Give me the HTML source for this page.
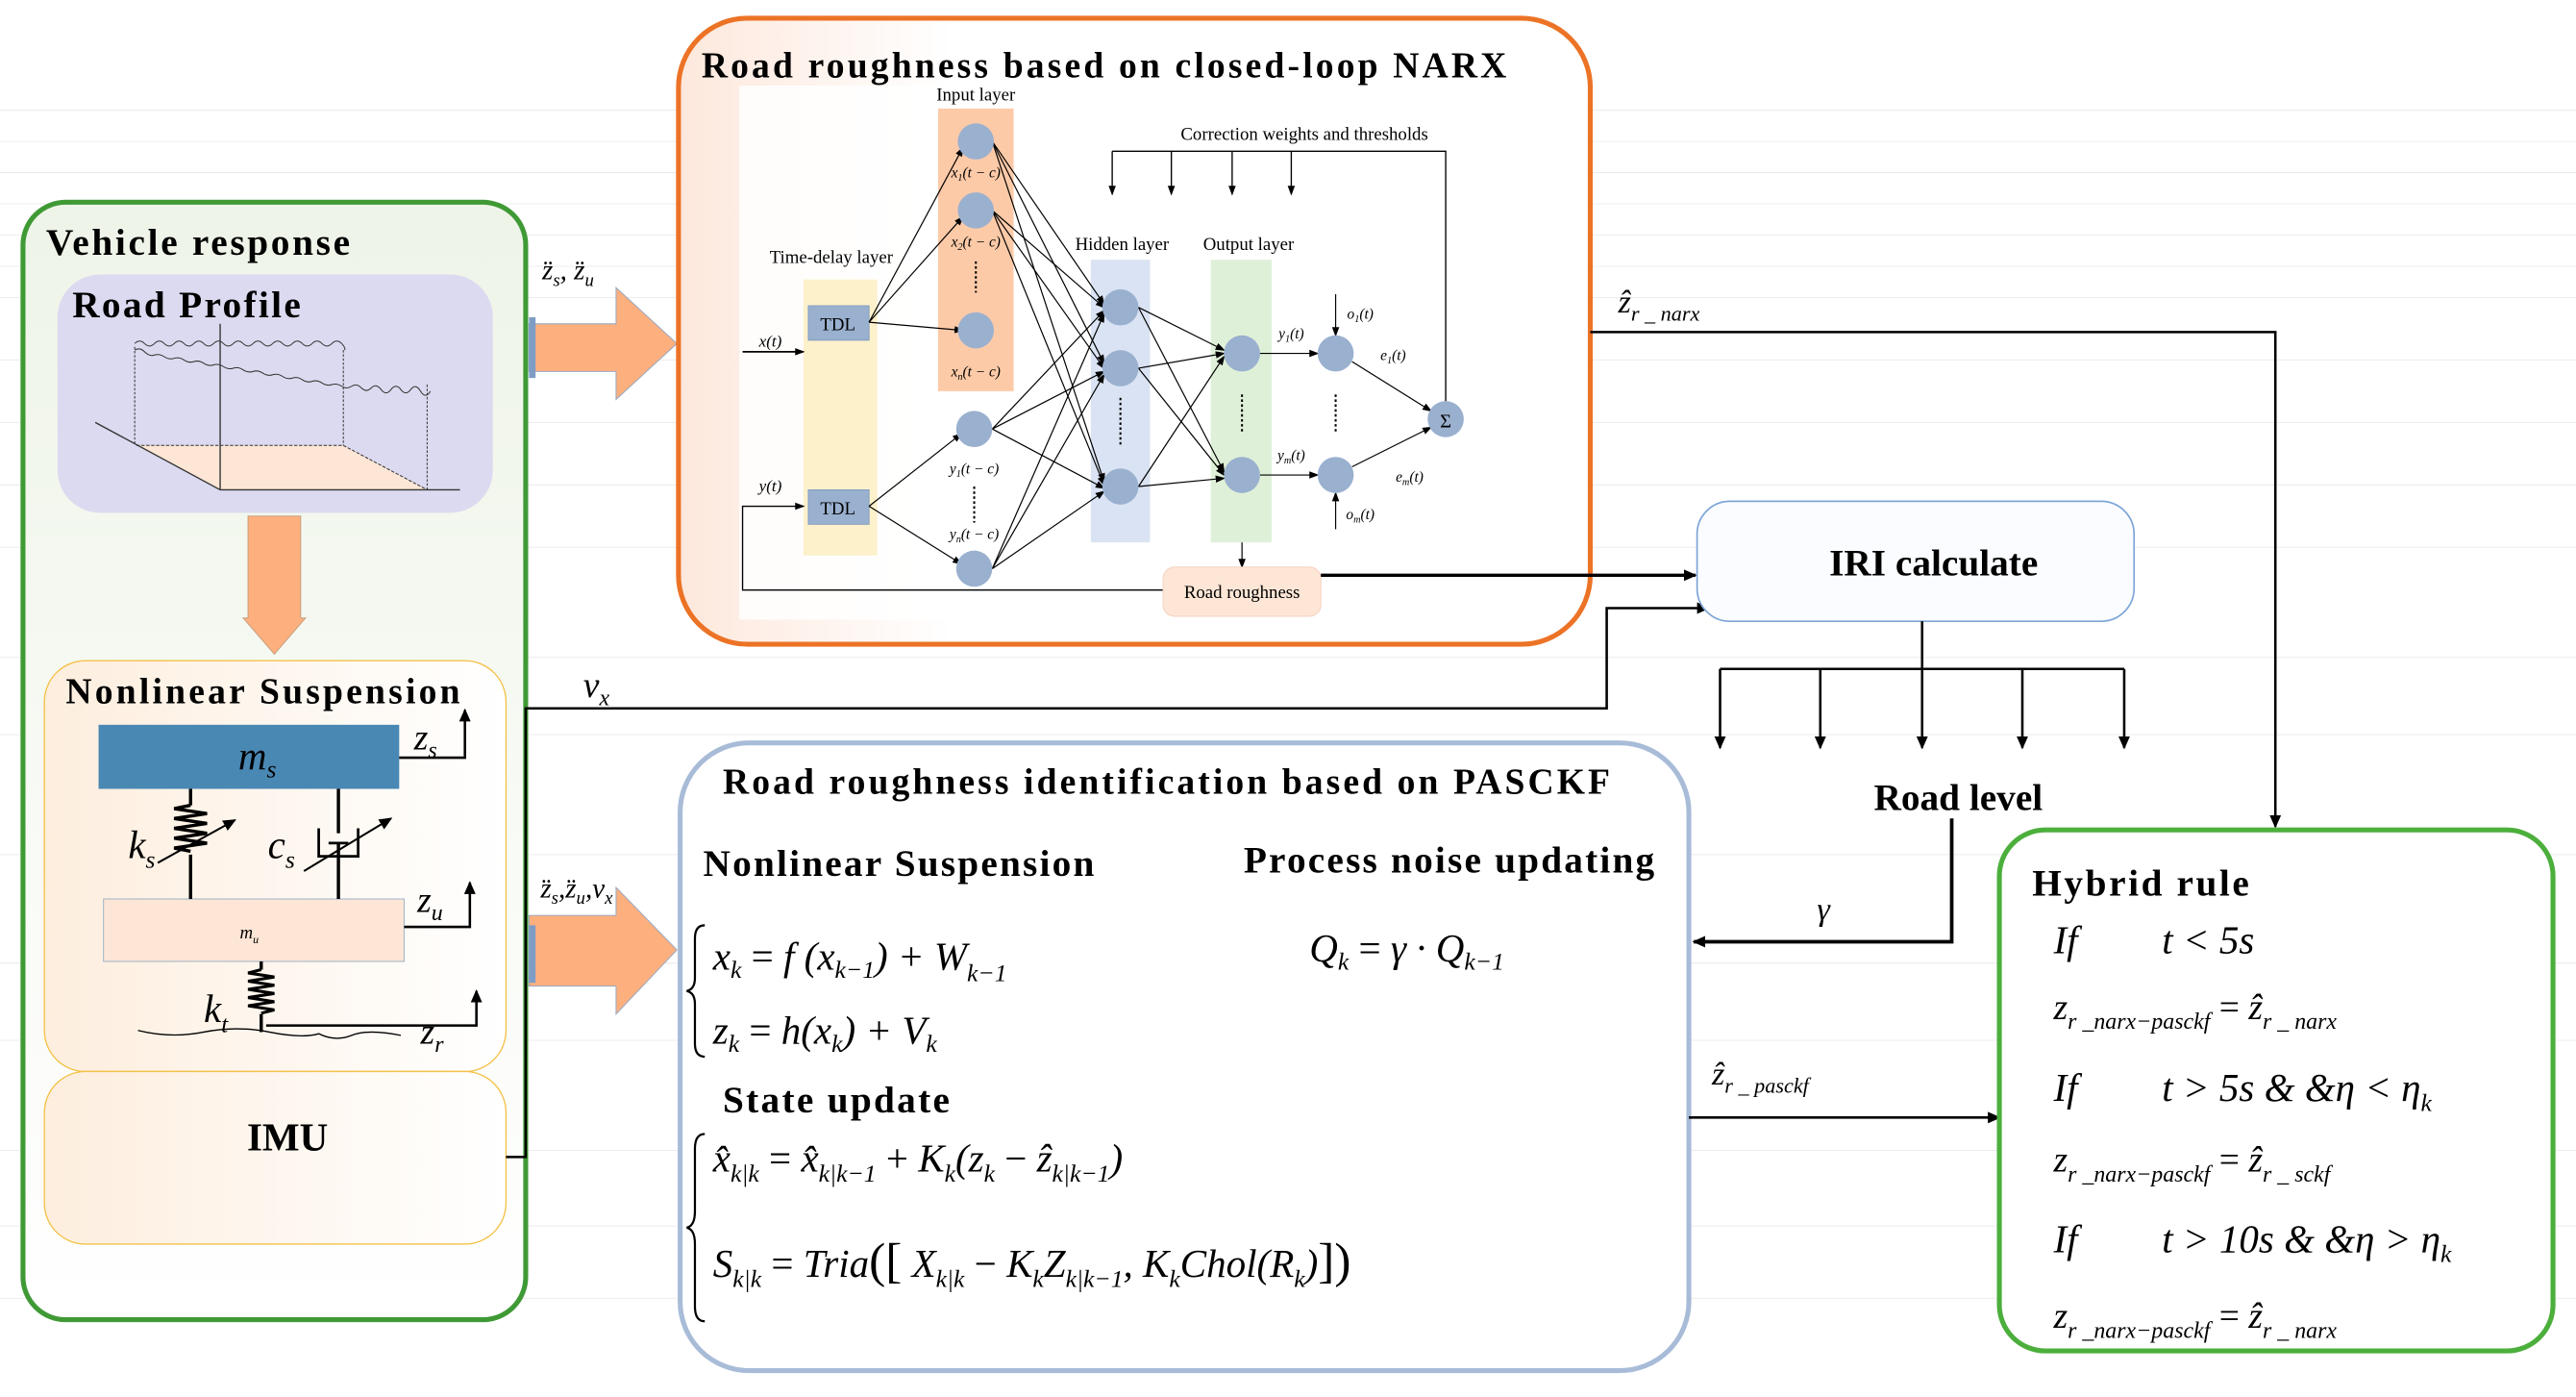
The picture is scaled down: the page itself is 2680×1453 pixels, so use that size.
<!DOCTYPE html>
<html><head><meta charset="utf-8"><style>
html,body{margin:0;padding:0;background:#fff;}
svg{display:block;}
text{font-family:"Liberation Serif",serif;fill:#000;}
.b{font-weight:bold;}
.i{font-style:italic;}
</style></head><body>
<svg width="2680" height="1453" viewBox="0 0 1568 850" xmlns="http://www.w3.org/2000/svg">
<defs>
<marker id="a" markerWidth="8" markerHeight="8" refX="7" refY="4" orient="auto" markerUnits="userSpaceOnUse"><path d="M0,0.5 L8,4 L0,7.5 z" fill="#000"/></marker>
<marker id="s" markerWidth="6" markerHeight="6" refX="5" refY="3" orient="auto" markerUnits="userSpaceOnUse"><path d="M0,0.8 L6,3 L0,5.2 z" fill="#000"/></marker>
<linearGradient id="gv" x1="0" y1="0" x2="0" y2="1"><stop offset="0" stop-color="#eef4e8"/><stop offset="0.5" stop-color="#f7faf4"/><stop offset="1" stop-color="#fff"/></linearGradient>
<linearGradient id="go" x1="0" y1="0" x2="1" y2="0"><stop offset="0" stop-color="#fde8dc"/><stop offset="0.3" stop-color="#fff"/></linearGradient>
<linearGradient id="gs" x1="0" y1="0" x2="1" y2="0"><stop offset="0" stop-color="#fdeede"/><stop offset="1" stop-color="#fff"/></linearGradient>
</defs>
<g stroke="#ececec" stroke-width="0.6">
<line x1="0" y1="67" x2="1568" y2="67"/><line x1="0" y1="86" x2="1568" y2="86"/><line x1="0" y1="105" x2="1568" y2="105"/><line x1="0" y1="124" x2="1568" y2="124"/><line x1="0" y1="143" x2="1568" y2="143"/><line x1="0" y1="162" x2="1568" y2="162"/><line x1="0" y1="181" x2="1568" y2="181"/><line x1="0" y1="219" x2="1568" y2="219"/><line x1="0" y1="257" x2="1568" y2="257"/><line x1="0" y1="295" x2="1568" y2="295"/><line x1="0" y1="333" x2="1568" y2="333"/><line x1="0" y1="400" x2="1568" y2="400"/><line x1="0" y1="447" x2="1568" y2="447"/><line x1="0" y1="520" x2="1568" y2="520"/><line x1="0" y1="586" x2="1568" y2="586"/><line x1="0" y1="633" x2="1568" y2="633"/><line x1="0" y1="700" x2="1568" y2="700"/><line x1="0" y1="746" x2="1568" y2="746"/><line x1="0" y1="790" x2="1568" y2="790"/>
</g>

<!-- Vehicle response -->
<rect x="14" y="123" width="306" height="680" rx="26" fill="url(#gv)" stroke="#3f9a35" stroke-width="3"/>
<text x="28" y="155" class="b" font-size="23" textLength="185">Vehicle response</text>
<rect x="35" y="167" width="265" height="145" rx="26" fill="#dcdaf0"/>
<text x="44" y="193" class="b" font-size="23" textLength="139">Road Profile</text>
<!-- road profile sketch -->
<polygon points="83,271 209,271 260,298 134,298" fill="#fde6d6"/>
<line x1="58" y1="257" x2="134" y2="298" stroke="#333" stroke-width="0.8"/>
<line x1="134" y1="298" x2="280" y2="298" stroke="#333" stroke-width="0.8"/>
<line x1="134" y1="298" x2="134" y2="197" stroke="#333" stroke-width="0.8"/>
<line x1="83" y1="271" x2="209" y2="271" stroke="#333" stroke-width="0.6" stroke-dasharray="2,1"/>
<line x1="209" y1="271" x2="260" y2="298" stroke="#333" stroke-width="0.6" stroke-dasharray="2,1"/>
<line x1="82" y1="211" x2="82" y2="271" stroke="#333" stroke-width="0.6" stroke-dasharray="1.5,1"/>
<line x1="209" y1="213" x2="209" y2="271" stroke="#333" stroke-width="0.6" stroke-dasharray="1.5,1"/>
<line x1="260" y1="234" x2="260" y2="298" stroke="#333" stroke-width="0.6" stroke-dasharray="1.5,1"/>
<path d="M82,209 q3,-3 6,0 t6,0 t6,0 t6,0 t6,0 t6,0 t6,0 t6,0 t6,0 t6,0 t6,0 t6,0 t6,0 t6,0 t6,0 t6,0 t6,0 t6,0 t6,0 t6,0 t6,0 q2,2 2,4" stroke="#333" fill="none" stroke-width="0.6"/>
<path d="M82,213 q3,-2 6,1 t6,2 t6,1 t6,1 t6,1 t6,1 t6,1 t6,1 t6,1 t6,1 t6,1 t6,1 t6,1 t6,1 t6,1 t6,1 t6,1 t6,1 t6,1 t6,1 t6,1 t6,0 t6,1 t6,0 t6,1 t6,0 t6,0 t6,0 t6,1 t6,0" stroke="#333" fill="none" stroke-width="0.6"/>
<!-- down arrow -->
<polygon points="151,314 183,314 183,376 186,376 167,398 148,376 151,376" fill="#fdb07e" stroke="#c9a07e" stroke-width="0.6"/>

<!-- Nonlinear suspension -->
<rect x="27" y="402" width="281" height="250" rx="25" fill="url(#gs)" stroke="#f4c24a" stroke-width="0.8"/>
<text x="40" y="428" class="b" font-size="22" textLength="240">Nonlinear Suspension</text>
<rect x="60" y="441" width="183" height="39" fill="#4a88b4"/>
<text x="145" y="468" class="i" font-size="24">m<tspan font-size="15" dy="5">s</tspan></text>
<rect x="63" y="547" width="183" height="38" fill="#fde6d6" stroke="#a0b4c8" stroke-width="0.6"/>
<text x="146" y="571" class="i" font-size="11">m<tspan font-size="7" dy="3">u</tspan></text>
<line x1="116" y1="480" x2="116" y2="490" stroke="#000" stroke-width="2"/>
<path d="M116,490 l-10,2 l20,3 l-20,3 l20,3 l-20,3 l20,3 l-20,3 l20,3 l-20,3 l10,2" fill="none" stroke="#000" stroke-width="2"/>
<line x1="116" y1="520" x2="116" y2="547" stroke="#000" stroke-width="2"/>
<line x1="96" y1="525" x2="143" y2="499" stroke="#000" stroke-width="1.2" marker-end="url(#a)"/>
<text x="78" y="522" class="i" font-size="24">k<tspan font-size="15" dy="6">s</tspan></text>
<line x1="206" y1="480" x2="206" y2="507" stroke="#000" stroke-width="2"/>
<path d="M194,504 V521 H218 V504" fill="none" stroke="#000" stroke-width="1.6"/>
<line x1="200" y1="513" x2="212" y2="513" stroke="#000" stroke-width="1.6"/>
<line x1="206" y1="513" x2="206" y2="547" stroke="#000" stroke-width="2"/>
<line x1="185" y1="530" x2="238" y2="498" stroke="#000" stroke-width="1.2" marker-end="url(#a)"/>
<text x="163" y="522" class="i" font-size="24">c<tspan font-size="15" dy="6">s</tspan></text>
<line x1="159" y1="585" x2="159" y2="590" stroke="#000" stroke-width="2"/>
<path d="M159,590 l-8,2 l16,2.5 l-16,2.5 l16,2.5 l-16,2.5 l16,2.5 l-16,2.5 l16,2.5 l-16,2.5 l16,2.5 l-8,2" fill="none" stroke="#000" stroke-width="1.8"/>
<line x1="159" y1="617" x2="159" y2="628" stroke="#000" stroke-width="2"/>
<text x="124" y="622" class="i" font-size="24">k<tspan font-size="15" dy="6">t</tspan></text>
<path d="M84,627 q20,5 40,1 t40,0 t30,1 q10,5 20,1 t30,0" fill="none" stroke="#000" stroke-width="0.8"/>
<polyline points="243,461 283,461 283,432" fill="none" stroke="#000" stroke-width="1.5" marker-end="url(#a)"/>
<text x="252" y="456" class="i" font-size="22">z<tspan font-size="14" dy="5">s</tspan></text>
<polyline points="246,564 286,564 286,537" fill="none" stroke="#000" stroke-width="1.5" marker-end="url(#a)"/>
<text x="254" y="555" class="i" font-size="22">z<tspan font-size="14" dy="5">u</tspan></text>
<polyline points="162,624 290,624 290,603" fill="none" stroke="#000" stroke-width="1.5" marker-end="url(#a)"/>
<text x="256" y="635" class="i" font-size="22">z<tspan font-size="14" dy="5">r</tspan></text>

<!-- IMU -->
<rect x="27" y="652" width="281" height="105" rx="25" fill="url(#gs)" stroke="#f4c24a" stroke-width="0.8"/>
<text x="175" y="700" class="b" font-size="24" text-anchor="middle">IMU</text>

<!-- orange arrows -->
<polygon points="322,197 375,197 375,175 412,209 375,243 375,226 322,226" fill="#fdb07e" stroke="#9aa8c0" stroke-width="0.6"/>
<rect x="322" y="193" width="4" height="37" fill="#7f9cc4"/>
<text x="330" y="170" class="i" font-size="17">z̈<tspan font-size="11" dy="4">s</tspan><tspan dy="-4">, z̈</tspan><tspan font-size="11" dy="4">u</tspan></text>
<polygon points="322,557 375,557 375,540 412,578 375,617 375,600 322,600" fill="#fdb07e" stroke="#9aa8c0" stroke-width="0.6"/>
<rect x="322" y="563" width="4" height="35" fill="#7f9cc4"/>
<text x="329" y="546" class="i" font-size="17">z̈<tspan font-size="11" dy="4">s</tspan><tspan dy="-4">,z̈</tspan><tspan font-size="11" dy="4">u</tspan><tspan dy="-4">,v</tspan><tspan font-size="11" dy="4">x</tspan></text>

<polyline points="308,704 320,704 320,431 978,431 978,370 1040,370" fill="none" stroke="#000" stroke-width="1.5" marker-end="url(#a)"/>
<text x="355" y="424" class="i" font-size="22">v<tspan font-size="14" dy="5">x</tspan></text>

<!-- NARX box -->
<rect x="413" y="11" width="555" height="381" rx="42" fill="url(#go)" stroke="#ec7326" stroke-width="3"/>
<rect x="450" y="52" width="490" height="325" fill="#fff" opacity="0.85"/>
<text x="427" y="47" class="b" font-size="22" textLength="490">Road roughness based on closed-loop NARX</text>
<text x="594" y="61" font-size="11" text-anchor="middle">Input layer</text>
<rect x="571" y="66" width="46" height="172" fill="#fdcaa8"/>
<rect x="489" y="170" width="45" height="168" fill="#fdf1cc"/>
<text x="506" y="160" font-size="11" text-anchor="middle">Time-delay layer</text>
<rect x="664" y="158" width="36" height="172" fill="#dae3f3"/>
<text x="683" y="152" font-size="11" text-anchor="middle">Hidden layer</text>
<rect x="737" y="158" width="37" height="172" fill="#dff0d8"/>
<text x="760" y="152" font-size="11" text-anchor="middle">Output layer</text>
<rect x="492" y="186" width="37" height="21" fill="#9ab0cf" stroke="#7d9abf" stroke-width="0.5"/>
<text x="510" y="201" font-size="11" text-anchor="middle">TDL</text>
<rect x="492" y="298" width="37" height="21" fill="#9ab0cf" stroke="#7d9abf" stroke-width="0.5"/>
<text x="510" y="313" font-size="11" text-anchor="middle">TDL</text>
<text x="462" y="211" class="i" font-size="10">x(t)</text>
<line x1="452" y1="214" x2="489" y2="214" stroke="#000" stroke-width="1" marker-end="url(#s)"/>
<text x="462" y="299" class="i" font-size="10">y(t)</text>
<polyline points="708,359 452,359 452,308 489,308" fill="none" stroke="#000" stroke-width="0.8" marker-end="url(#s)"/>
<g stroke="#000" stroke-width="0.7" fill="none" marker-end="url(#s)">
<line x1="529" y1="196" x2="586" y2="90"/><line x1="529" y1="196" x2="586" y2="132"/><line x1="529" y1="196" x2="586" y2="201"/>
<line x1="529" y1="308" x2="585" y2="264"/><line x1="529" y1="308" x2="585" y2="343"/>
<line x1="604" y1="86" x2="672" y2="185"/><line x1="604" y1="86" x2="672" y2="221"/><line x1="604" y1="86" x2="672" y2="293"/>
<line x1="604" y1="128" x2="672" y2="187"/><line x1="604" y1="128" x2="672" y2="224"/><line x1="604" y1="128" x2="672" y2="295"/>
<line x1="604" y1="261" x2="672" y2="189"/><line x1="604" y1="261" x2="672" y2="226"/><line x1="604" y1="261" x2="672" y2="297"/>
<line x1="604" y1="346" x2="672" y2="191"/><line x1="604" y1="346" x2="672" y2="228"/><line x1="604" y1="346" x2="672" y2="299"/>
<line x1="693" y1="187" x2="745" y2="213"/><line x1="693" y1="187" x2="745" y2="287"/>
<line x1="693" y1="224" x2="745" y2="215"/><line x1="693" y1="224" x2="745" y2="289"/>
<line x1="693" y1="296" x2="745" y2="217"/><line x1="693" y1="296" x2="745" y2="291"/>
<line x1="767" y1="215" x2="802" y2="215"/><line x1="767" y1="289" x2="802" y2="289"/>
<line x1="823" y1="220" x2="871" y2="250"/><line x1="823" y1="284" x2="871" y2="260"/>
<line x1="813" y1="179" x2="813" y2="204"/><line x1="813" y1="322" x2="813" y2="300"/>
<line x1="756" y1="330" x2="756" y2="345"/>
</g>
<g fill="#9ab0cf">
<circle cx="594" cy="86" r="11"/><circle cx="594" cy="128" r="11"/><circle cx="594" cy="201" r="11"/>
<circle cx="593" cy="261" r="11"/><circle cx="593" cy="346" r="11"/>
<circle cx="682" cy="187" r="11"/><circle cx="682" cy="224" r="11"/><circle cx="682" cy="296" r="11"/>
<circle cx="756" cy="215" r="11"/><circle cx="756" cy="289" r="11"/>
<circle cx="813" cy="215" r="11"/><circle cx="813" cy="289" r="11"/>
<circle cx="880" cy="255" r="11"/>
</g>
<text x="880" y="260" font-size="12" text-anchor="middle">Σ</text>
<g stroke="#000" stroke-width="1.2" stroke-dasharray="1.5,1.5">
<line x1="594" y1="159" x2="594" y2="178"/><line x1="593" y1="296" x2="593" y2="318"/>
<line x1="682" y1="242" x2="682" y2="272"/><line x1="756" y1="240" x2="756" y2="264"/><line x1="813" y1="240" x2="813" y2="264"/>
</g>
<g font-size="9" class="i" text-anchor="middle">
<text x="594" y="108">x<tspan font-size="6" dy="2">1</tspan><tspan dy="-2">(t − c)</tspan></text>
<text x="594" y="150">x<tspan font-size="6" dy="2">2</tspan><tspan dy="-2">(t − c)</tspan></text>
<text x="594" y="229">x<tspan font-size="6" dy="2">n</tspan><tspan dy="-2">(t − c)</tspan></text>
<text x="593" y="288">y<tspan font-size="6" dy="2">1</tspan><tspan dy="-2">(t − c)</tspan></text>
<text x="593" y="328">y<tspan font-size="6" dy="2">n</tspan><tspan dy="-2">(t − c)</tspan></text>
<text x="786" y="206">y<tspan font-size="6" dy="2">1</tspan><tspan dy="-2">(t)</tspan></text>
<text x="786" y="280">y<tspan font-size="6" dy="2">m</tspan><tspan dy="-2">(t)</tspan></text>
<text x="828" y="194">o<tspan font-size="6" dy="2">1</tspan><tspan dy="-2">(t)</tspan></text>
<text x="848" y="219">e<tspan font-size="6" dy="2">1</tspan><tspan dy="-2">(t)</tspan></text>
<text x="858" y="293">e<tspan font-size="6" dy="2">m</tspan><tspan dy="-2">(t)</tspan></text>
<text x="828" y="316">o<tspan font-size="6" dy="2">m</tspan><tspan dy="-2">(t)</tspan></text>
</g>
<polyline points="880,244 880,92 677,92" fill="none" stroke="#000" stroke-width="0.8"/>
<g stroke="#000" stroke-width="0.8" marker-end="url(#s)">
<line x1="677" y1="92" x2="677" y2="118"/><line x1="713" y1="92" x2="713" y2="118"/><line x1="750" y1="92" x2="750" y2="118"/><line x1="786" y1="92" x2="786" y2="118"/>
</g>
<text x="794" y="85" font-size="11" text-anchor="middle">Correction weights and thresholds</text>
<rect x="708" y="345" width="96" height="30" rx="7" fill="#fde6d6" stroke="#f4d2c0" stroke-width="0.6"/>
<text x="756" y="364" font-size="11" text-anchor="middle">Road roughness</text>
<line x1="804" y1="350" x2="1032" y2="350" stroke="#000" stroke-width="2" marker-end="url(#a)"/>

<polyline points="968,202 1385,202 1385,503" fill="none" stroke="#000" stroke-width="1.5" marker-end="url(#a)"/>
<text x="985" y="190" class="i" font-size="20">ẑ<tspan font-size="13" dy="5">r _ narx</tspan></text>

<!-- IRI -->
<rect x="1033" y="305" width="266" height="73" rx="20" fill="#fbfcff" stroke="#7ea6d8" stroke-width="1"/>
<text x="1177" y="350" class="b" font-size="23" text-anchor="middle">IRI calculate</text>
<line x1="1170" y1="378" x2="1170" y2="407" stroke="#000" stroke-width="1.5"/>
<line x1="1047" y1="407" x2="1293" y2="407" stroke="#000" stroke-width="1.5"/>
<g stroke="#000" stroke-width="1.5" marker-end="url(#a)">
<line x1="1047" y1="407" x2="1047" y2="455"/><line x1="1108" y1="407" x2="1108" y2="455"/><line x1="1170" y1="407" x2="1170" y2="455"/><line x1="1231" y1="407" x2="1231" y2="455"/><line x1="1293" y1="407" x2="1293" y2="455"/>
</g>
<text x="1192" y="493" class="b" font-size="23" text-anchor="middle">Road level</text>
<polyline points="1188,498 1188,573 1031,573" fill="none" stroke="#000" stroke-width="2.2" marker-end="url(#a)"/>
<text x="1106" y="560" class="i" font-size="20">γ</text>

<!-- PASCKF -->
<rect x="414" y="452" width="614" height="382" rx="42" fill="#fff" stroke="#a8bcd8" stroke-width="3"/>
<text x="440" y="483" class="b" font-size="22" textLength="540">Road roughness identification based on PASCKF</text>
<text x="428" y="533" class="b" font-size="23" textLength="238">Nonlinear Suspension</text>
<text x="757" y="531" class="b" font-size="23" textLength="250">Process noise updating</text>
<path d="M429,563 q-6,0 -6,8 v24 q0,7 -5,8 q5,1 5,8 v24 q0,8 6,8" fill="none" stroke="#000" stroke-width="1.3"/>
<g class="i" font-size="24">
<text x="434" y="590">x<tspan font-size="15" dy="5">k</tspan><tspan dy="-5" font-style="normal"> = </tspan>f (x<tspan font-size="15" dy="5">k−1</tspan><tspan dy="-5">) + W</tspan><tspan font-size="15" dy="7">k−1</tspan></text>
<text x="434" y="635">z<tspan font-size="15" dy="5">k</tspan><tspan dy="-5" font-style="normal"> = </tspan>h(x<tspan font-size="15" dy="5">k</tspan><tspan dy="-5">) + V</tspan><tspan font-size="15" dy="5">k</tspan></text>
<text x="797" y="585">Q<tspan font-size="15" dy="5">k</tspan><tspan dy="-5" font-style="normal"> = </tspan>γ · Q<tspan font-size="15" dy="5">k−1</tspan></text>
</g>
<text x="440" y="677" class="b" font-size="23" textLength="138">State update</text>
<path d="M429,690 q-6,0 -6,9 v38 q0,9 -5,10 q5,1 5,10 v38 q0,9 6,9" fill="none" stroke="#000" stroke-width="1.3"/>
<g class="i" font-size="24">
<text x="434" y="713">x̂<tspan font-size="15" dy="6">k|k</tspan><tspan dy="-6" font-style="normal"> = </tspan>x̂<tspan font-size="15" dy="6">k|k−1</tspan><tspan dy="-6" font-style="normal"> + </tspan>K<tspan font-size="15" dy="6">k</tspan><tspan dy="-6">(z</tspan><tspan font-size="15" dy="6">k</tspan><tspan dy="-6" font-style="normal"> − </tspan>ẑ<tspan font-size="15" dy="6">k|k−1</tspan><tspan dy="-6">)</tspan></text>
<text x="434" y="777">S<tspan font-size="15" dy="6">k|k</tspan><tspan dy="-6" font-style="normal"> = </tspan>Tria<tspan font-size="30" font-style="normal">([</tspan> X<tspan font-size="15" dy="6">k|k</tspan><tspan dy="-6" font-style="normal"> − </tspan>K<tspan font-size="15" dy="6">k</tspan><tspan dy="-6">Z</tspan><tspan font-size="15" dy="6">k|k−1</tspan><tspan dy="-6">, K</tspan><tspan font-size="15" dy="6">k</tspan><tspan dy="-6">Chol(R</tspan><tspan font-size="15" dy="6">k</tspan><tspan dy="-6">)</tspan><tspan font-size="30" font-style="normal">])</tspan></text>
</g>
<line x1="1028" y1="680" x2="1217" y2="680" stroke="#000" stroke-width="1.5" marker-end="url(#a)"/>
<text x="1042" y="660" class="i" font-size="20">ẑ<tspan font-size="13" dy="5">r _ pasckf</tspan></text>

<!-- Hybrid -->
<rect x="1217" y="505" width="337" height="317" rx="28" fill="#fff" stroke="#4caf3c" stroke-width="3"/>
<text x="1237" y="545" class="b" font-size="23" textLength="132">Hybrid rule</text>
<g class="i" font-size="24">
<text x="1250" y="580">If</text><text x="1316" y="580">t &lt; 5s</text>
<text x="1250" y="670">If</text><text x="1316" y="670">t &gt; 5s &amp; &amp;η &lt; η<tspan font-size="15" dy="6">k</tspan></text>
<text x="1250" y="762">If</text><text x="1316" y="762">t &gt; 10s &amp; &amp;η &gt; η<tspan font-size="15" dy="6">k</tspan></text>
</g>
<g class="i" font-size="22">
<text x="1250" y="620">z<tspan font-size="14" dy="6">r _narx−pasckf</tspan><tspan dy="-6" font-style="normal"> = </tspan>ẑ<tspan font-size="14" dy="6">r _ narx</tspan></text>
<text x="1250" y="713">z<tspan font-size="14" dy="6">r _narx−pasckf</tspan><tspan dy="-6" font-style="normal"> = </tspan>ẑ<tspan font-size="14" dy="6">r _ sckf</tspan></text>
<text x="1250" y="808">z<tspan font-size="14" dy="6">r _narx−pasckf</tspan><tspan dy="-6" font-style="normal"> = </tspan>ẑ<tspan font-size="14" dy="6">r _ narx</tspan></text>
</g>
</svg>
</body></html>
